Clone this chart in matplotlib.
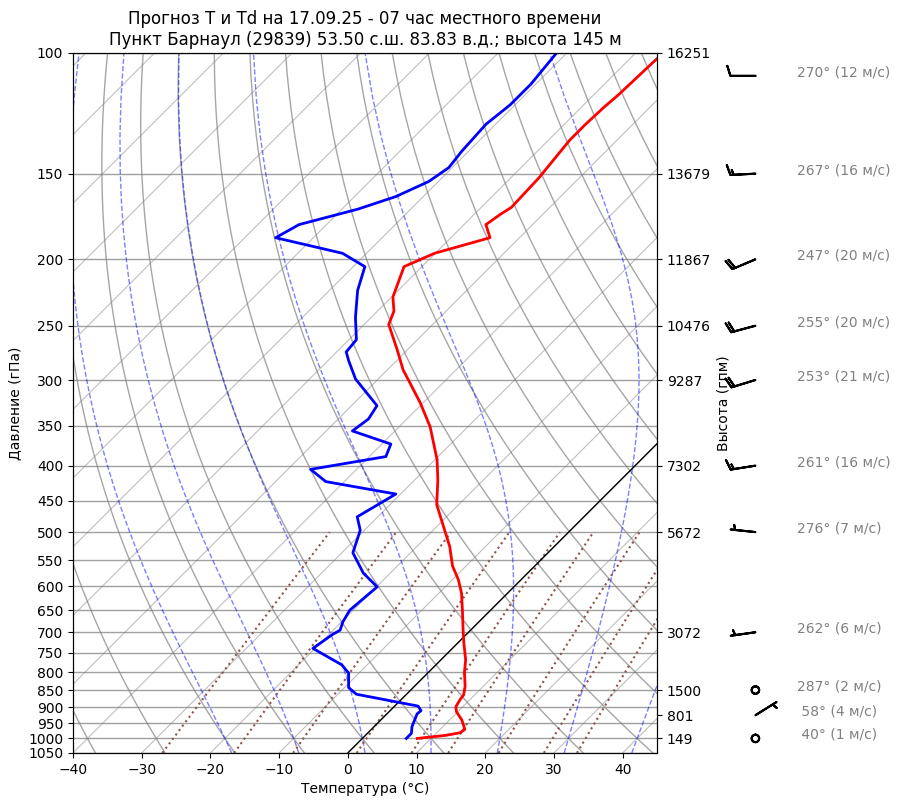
import numpy as np
import matplotlib
matplotlib.use('Agg')
import matplotlib.pyplot as plt
from matplotlib import transforms
from matplotlib.ticker import NullLocator

# --- профиль температуры (гПа, °C)
p_t = [1000, 990, 981, 970, 940, 914, 899, 879, 864, 840, 800, 768, 726, 695,
       650, 614, 587, 560, 525, 491, 456, 420, 392, 351, 324, 303, 290, 271,
       249, 238, 227, 205, 196, 186, 178, 172, 168, 152, 134, 127, 120, 115, 100]
t = [8.0, 11.6, 13.4, 13.6, 11.8, 9.8, 9.0, 8.6, 8.4, 7.4, 5.2, 3.6, 0.9, -1.1,
     -4.1, -6.7, -9.1, -12.0, -15.2, -19.0, -23.2, -26.6, -29.7, -35.5, -40.4,
     -44.8, -47.7, -51.5, -56.4, -57.6, -59.8, -62.6, -60.1, -54.3, -56.8,
     -56.2, -55.6, -55.9, -56.9, -56.9, -56.7, -56.4, -56.0]

# --- профиль точки росы
p_td = [1000, 983, 961, 921, 911, 897, 862, 843, 803, 781, 739, 706, 695, 676,
        650, 601, 574, 536, 497, 475, 440, 422, 405, 388, 372, 356, 342, 327,
        299, 281, 273, 262, 243, 222, 205, 196, 186, 178, 169, 162, 154, 147,
        139, 127, 119, 111, 100]
td = [6.4, 6.4, 5.5, 4.4, 4.5, 3.4, -7.3, -9.4, -11.5, -13.7, -20.3, -19.5,
      -19.0, -19.8, -20.5, -19.9, -23.9, -28.4, -30.6, -33.0, -30.7, -42.7,
      -46.7, -37.6, -38.7, -46.2, -45.6, -46.3, -53.3, -57.0, -58.6, -58.9,
      -62.3, -65.9, -68.3, -73.5, -85.5, -84.0, -77.7, -74.0, -71.4, -70.5,
      -71.0, -71.4, -70.7, -70.7, -71.5]

# --- стандартные уровни: высота и ветер
lev_p = [100, 150, 200, 250, 300, 400, 500, 700, 850, 925, 1000]
lev_h = [16251, 13679, 11867, 10476, 9287, 7302, 5672, 3072, 1500, 801, 149]
wdir = [270, 267, 247, 255, 253, 261, 276, 262, 287, 58, 40]
wspd = [12, 16, 20, 20, 21, 16, 7, 6, 2, 4, 1]

p_ticks = list(range(100, 1051, 50))
t_ticks = list(range(-40, 41, 10))

# вспомогательные линии
dry_t0 = np.arange(-40, 201, 10)
moist_t0 = np.arange(-20, 41, 10)
mix_w = [0.0004, 0.001, 0.002, 0.004, 0.007, 0.01, 0.016, 0.024, 0.032]

Rd, Cp, Lv, eps = 287.04749, 1004.6662, 2.50084e6, 0.6219569


def es(tc):
    return 6.112 * np.exp(17.67 * tc / (tc + 243.5))


def moist_rate(p, tk):
    tc = tk - 273.15
    e = es(tc)
    rs = eps * e / (p - e)
    frac = (Rd * tk + Lv * rs) / (Cp + Lv * Lv * rs * eps / (Rd * tk ** 2))
    return frac / p


def moist_lapse(p, t0):
    # RK4 от 1000 гПа до каждой точки p
    out = []
    for pend in p:
        n = max(int(abs(pend - 1000) / 2), 1)
        h = (pend - 1000) / n
        pp, tk = 1000.0, t0 + 273.15
        for _ in range(n):
            k1 = moist_rate(pp, tk)
            k2 = moist_rate(pp + h / 2, tk + h / 2 * k1)
            k3 = moist_rate(pp + h / 2, tk + h / 2 * k2)
            k4 = moist_rate(pp + h, tk + h * k3)
            tk += h / 6 * (k1 + 2 * k2 + 2 * k3 + k4)
            pp += h
        out.append(tk - 273.15)
    return np.array(out)


fig = plt.figure(figsize=(9, 8.06), dpi=100)
ax = fig.add_axes([0.0811, 0.0658, 0.6489, 0.8685])
ax.set_yscale('log')
ax.set_ylim(1050, 100)
ax.set_xlim(-40, 45)

# наклон изотерм 45° на картинке
bb = ax.get_position()
k = (bb.height * fig.get_figheight()) / (bb.width * fig.get_figwidth())
skew = (ax.transScale + ax.transLimits
        + transforms.Affine2D().skew(np.arctan(k), 0) + ax.transAxes)

ax.set_yticks(p_ticks)
ax.set_yticklabels([str(p) for p in p_ticks])
ax.yaxis.set_minor_locator(NullLocator())
ax.set_xticks(t_ticks)
ax.yaxis.grid(True, color='#a0a0a0', lw=1)

pp = np.linspace(1050, 100, 120)
for t0 in range(-150, 50, 10):
    ax.plot([t0, t0], [1050, 100], transform=skew, color='gray', alpha=0.5, lw=0.8)
for t0 in dry_t0:
    ax.plot((t0 + 273.15) * (pp / 1000) ** (Rd / Cp) - 273.15, pp,
            transform=skew, color='gray', alpha=0.7, lw=1)
pm = np.linspace(1050, 100, 60)
for t0 in moist_t0:
    ax.plot(moist_lapse(pm, t0), pm, transform=skew, color='b', alpha=0.5,
            lw=1, ls='--')
pw = np.linspace(1050, 500, 40)
for w in mix_w:
    lne = np.log(w * pw / (eps + w) / 6.112)
    ax.plot(243.5 * lne / (17.67 - lne), pw, transform=skew,
            color='tab:brown', lw=1.5, ls=':')

ax.plot([0, 0], [1050, 100], transform=skew, color='k', lw=1)
ax.plot(t, p_t, transform=skew, color='red', lw=2)
ax.plot(td, p_td, transform=skew, color='blue', lw=2)

ax.set_xlabel('Температура (°C)')
ax.set_ylabel('Давление (гПа)')
ax.set_title('Прогноз T и Td на 17.09.25 - 07 час местного времени\n'
             'Пункт Барнаул (29839) 53.50 с.ш. 83.83 в.д.; высота 145 м')

# высоты справа
ax2 = ax.twinx()
ax2.set_yscale('log')
ax2.set_ylim(1050, 100)
ax2.set_yticks(lev_p)
ax2.set_yticklabels([str(h) for h in lev_h])
ax2.yaxis.set_minor_locator(NullLocator())
ax2.set_ylabel('Высота (гпм)')

# ветер
ax3 = fig.add_axes([657 / 900, 0.0658, 243 / 900, 0.8685])
ax3.set_yscale('log')
ax3.set_ylim(1050, 100)
ax3.set_xlim(0, 1)
ax3.axis('off')
rad = np.deg2rad(wdir)
u = -np.array(wspd) * np.sin(rad)
v = -np.array(wspd) * np.cos(rad)
p_draw = np.maximum(lev_p, 108)
ax3.barbs(np.full(len(lev_p), 0.405), p_draw, u, v, length=6.0, lw=1.5,
          color='k', clip_on=False)
txt_tr = transforms.offset_copy(ax3.transData, fig=fig, y=2.6, units='points')
for pd_, d, s in zip(p_draw, wdir, wspd):
    ax3.text(0.576, pd_, f'{d:3d}° ({s} м/с)', transform=txt_tr, color='gray',
             fontsize=10, va='center', ha='left')

fig.savefig('out.png', dpi=100)
